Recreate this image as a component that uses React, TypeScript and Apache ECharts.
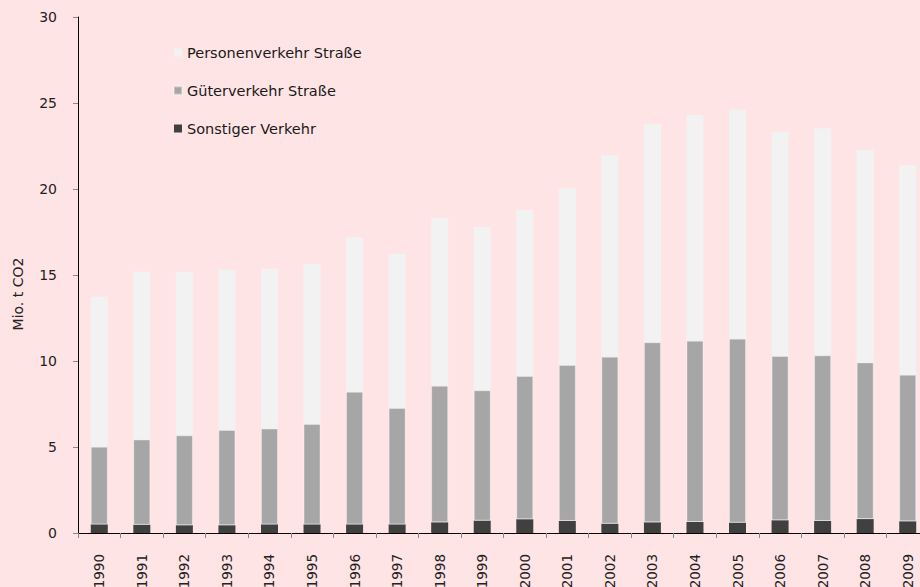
import React, { useEffect, useRef } from "react";
import * as echarts from "echarts";

const years = ["1990","1991","1992","1993","1994","1995","1996","1997","1998","1999","2000","2001","2002","2003","2004","2005","2006","2007","2008","2009"];
const sonstiger = [0.5, 0.48, 0.45, 0.45, 0.5, 0.5, 0.5, 0.5, 0.62, 0.72, 0.8, 0.7, 0.54, 0.62, 0.64, 0.6, 0.74, 0.7, 0.81, 0.68];
const gueter = [4.52, 4.96, 5.23, 5.54, 5.57, 5.84, 7.71, 6.77, 7.94, 7.58, 8.33, 9.07, 9.71, 10.47, 10.54, 10.7, 9.55, 9.63, 9.11, 8.52];
const personen = [8.72, 9.75, 9.49, 9.32, 9.3, 9.3, 8.98, 8.95, 9.75, 9.49, 9.65, 10.27, 11.71, 12.71, 13.12, 13.31, 13.04, 13.2, 12.33, 12.2];
const yTicks = { min: 0, max: 30, interval: 5 };
const names = ["Personenverkehr Straße", "Güterverkehr Straße", "Sonstiger Verkehr"];

const FONT = "DejaVu Sans";

export default function App() {
  const ref = useRef<HTMLDivElement>(null);
  useEffect(() => {
    document.body.style.margin = "0";
    const chart = echarts.init(ref.current!, null, { renderer: "svg" });
    chart.setOption({
      animation: false,
      backgroundColor: "#ffe4e5",
      textStyle: { fontFamily: FONT },
      grid: { left: 78, right: -9, top: 17, bottom: 54, containLabel: false, outerBoundsMode: "none" },
      legend: {
        orient: "vertical",
        left: 168,
        top: 40,
        itemWidth: 8,
        itemHeight: 8,
        itemGap: 23,
        icon: "rect",
        data: names,
        textStyle: { fontFamily: FONT, fontSize: 14.5, color: "#1a1a1a", lineHeight: 15 },
      },
      graphic: [
        {
          type: "text",
          x: 18,
          y: 294,
          rotation: Math.PI / 2,
          style: {
            text: "Mio. t CO2",
            fontFamily: FONT,
            fontSize: 14,
            fill: "#222",
            align: "center",
            verticalAlign: "middle",
          },
        },
      ],
      xAxis: {
        type: "category",
        data: years,
        axisLine: { lineStyle: { color: "#000", width: 1 } },
        axisTick: { show: true, interval: 0, length: 5, lineStyle: { color: "#888" } },
        axisLabel: { interval: 0, rotate: 90, margin: 21, fontSize: 13.5, color: "#222", fontFamily: FONT },
      },
      yAxis: {
        type: "value",
        min: yTicks.min,
        max: yTicks.max,
        interval: yTicks.interval,
        axisLine: { show: true, lineStyle: { color: "#000", width: 1 } },
        axisTick: { show: true, length: 5, lineStyle: { color: "#888" } },
        axisLabel: { margin: 21, fontSize: 14, color: "#222", fontFamily: FONT },
        splitLine: { show: false },
      },
      series: [
        {
          name: names[2],
          type: "bar",
          stack: "total",
          barWidth: 17,
          data: sonstiger,
          itemStyle: { color: "#404040" },
        },
        {
          name: names[1],
          type: "bar",
          stack: "total",
          barWidth: 17,
          data: gueter,
          itemStyle: { color: "#a6a6a6", borderColor: "rgba(255,255,255,0.35)", borderWidth: 1 },
        },
        {
          name: names[0],
          type: "bar",
          stack: "total",
          barWidth: 17,
          data: personen,
          itemStyle: { color: "#f2f2f2" },
        },
      ],
    });
    return () => chart.dispose();
  }, []);
  return <div ref={ref} style={{ width: 920, height: 587 }} />;
}
